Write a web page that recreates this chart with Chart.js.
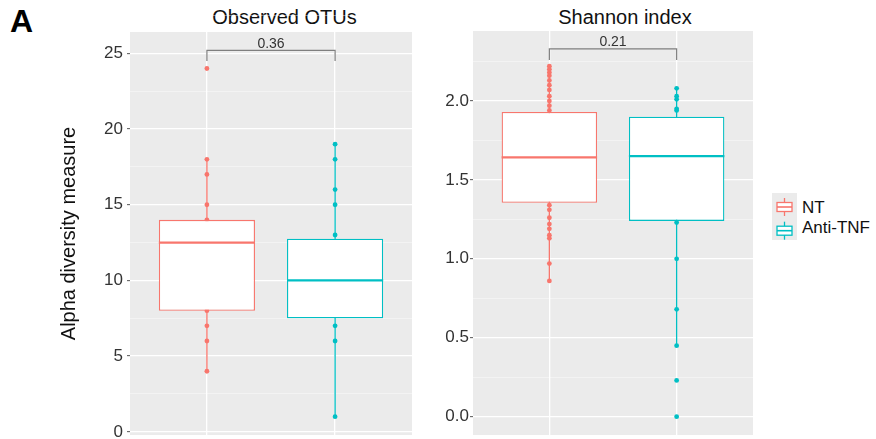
<!DOCTYPE html>
<html>
<head>
<meta charset="utf-8">
<title>Alpha diversity</title>
<script src="https://cdn.jsdelivr.net/npm/chart.js@4.4.1/dist/chart.umd.min.js"></script>
<style>
  html, body { margin: 0; padding: 0; background: #ffffff; }
  #wrap { position: relative; width: 876px; height: 439px; overflow: hidden;
          font-family: "Liberation Sans", Arial, sans-serif; color: #111; }
  canvas { position: absolute; top: 0; }
  #c1 { left: 0; }
  #c2 { left: 430px; }
  .panel-title { position: absolute; top: 7.4px; width: 240px; text-align: center;
                 font-size: 20px; line-height: 20px; color: #111; white-space: nowrap; }
  #tag { position: absolute; left: 10px; top: 5px; font-size: 32px; line-height: 32px;
         font-weight: bold; color: #000; }
  #legend-keys { position: absolute; left: 772px; top: 193px; }
  .legend-text { position: absolute; left: 802px; font-size: 17px; line-height: 17px;
                 color: #111; white-space: nowrap; }
</style>
</head>
<body>
<div id="wrap">
  <div id="tag">A</div>
  <div class="panel-title" style="left:164.5px">Observed OTUs</div>
  <div class="panel-title" style="left:505px">Shannon index</div>
  <canvas id="c1" width="430" height="439"></canvas>
  <canvas id="c2" width="340" height="439"></canvas>
  <svg id="legend-keys" width="25" height="47" viewBox="0 0 25 47"></svg>
  <div class="legend-text" id="lt0" style="top:198.9px"></div>
  <div class="legend-text" id="lt1" style="top:218.9px"></div>
</div>
<script>
// ---- groups ----
const GROUPS = ['NT', 'Anti-TNF'];
const GROUP_X = [1, 2];
const COLORS = ['#F8766D', '#00BFC4'];

// ---- Observed OTUs ----
const OTU_POINTS_NT   = [24, 18, 17, 15, 14, 8, 7, 6, 4];
const OTU_POINTS_ANTI = [19, 18, 16, 15, 13, 7, 6, 1];
const OTU_Q1          = [8, 7.5];
const OTU_MEDIAN      = [12.5, 10];
const OTU_Q3          = [14, 12.75];
const OTU_WHISKER_LOW = [4, 1];
const OTU_WHISKER_HIGH = [18, 19];
const OTU_MAJOR_TICKS = [0, 5, 10, 15, 20, 25];
const OTU_BRACKET     = [24.5, 25.2];
const OTU_P_VALUE     = '0.36';

// ---- Shannon index ----
const SH_POINTS_NT   = [2.22, 2.20, 2.18, 2.16, 2.13, 2.10, 2.07, 2.03, 2.00, 1.97, 1.94,
                        1.34, 1.31, 1.26, 1.22, 1.19, 1.15, 1.13, 0.97, 0.86];
const SH_POINTS_ANTI = [2.08, 2.03, 2.01, 1.95, 1.94, 1.23, 1.00, 0.68, 0.45, 0.23, 0.00];
const SH_Q1          = [1.355, 1.24];
const SH_MEDIAN      = [1.643, 1.65];
const SH_Q3          = [1.93, 1.90];
const SH_WHISKER_LOW = [0.86, 0.45];
const SH_WHISKER_HIGH = [2.22, 2.08];
const SH_MAJOR_TICKS = [0, 0.5, 1, 1.5, 2];
const SH_BRACKET     = [2.26, 2.33];
const SH_P_VALUE     = '0.21';

const BOX_WIDTH = 0.75;
const FONT = '"Liberation Sans", Arial, sans-serif';
Chart.defaults.font.family = FONT;

// grey panel behind the grid
const panelBg = {
  id: 'panelBg',
  beforeDraw(chart, args, opts) {
    const a = chart.chartArea, ctx = chart.ctx;
    ctx.save();
    ctx.fillStyle = opts.color || '#EBEBEB';
    ctx.fillRect(a.left, a.top, a.right - a.left, a.bottom - a.top);
    ctx.restore();
  }
};

// p-value text above the comparison bracket
const pValueLabel = {
  id: 'pValue',
  afterDatasetsDraw(chart, args, opts) {
    if (!opts.text) return;
    const ctx = chart.ctx, xs = chart.scales.x, ys = chart.scales.y;
    ctx.save();
    ctx.font = '14px ' + FONT;
    ctx.fillStyle = '#333333';
    ctx.textAlign = 'center';
    ctx.textBaseline = 'alphabetic';
    ctx.fillText(opts.text, xs.getPixelForValue(opts.x), ys.getPixelForValue(opts.y) - 2.5);
    ctx.restore();
  }
};

function minorTicks(major) {
  const step = major[1] - major[0];
  return major.map(v => v + step / 2);
}

function isMajor(v, major) {
  return major.some(m => Math.abs(m - v) < 1e-9);
}

function panelDatasets(p) {
  const ds = [];
  GROUP_X.forEach((x, i) => {
    const c = COLORS[i];
    // median
    ds.push({ type: 'line', order: 0,
      data: [{ x: x - BOX_WIDTH / 2, y: p.median[i] }, { x: x + BOX_WIDTH / 2, y: p.median[i] }],
      borderColor: c, borderWidth: 2.2, pointRadius: 0, borderCapStyle: 'butt' });
    // whisker
    ds.push({ type: 'line', order: 2,
      data: [{ x: x, y: p.low[i] }, { x: x, y: p.high[i] }],
      borderColor: c, borderWidth: 1.3, pointRadius: 0 });
    // observations
    ds.push({ type: 'scatter', order: 3,
      data: p.points[i].map(v => ({ x: x, y: v })),
      backgroundColor: c, borderWidth: 0, pointRadius: 2.4 });
  });
  // interquartile boxes
  ds.push({ type: 'bar', order: 1,
    data: GROUP_X.map((x, i) => ({ x: x, y: [p.q1[i], p.q3[i]] })),
    backgroundColor: '#ffffff', borderColor: COLORS, borderWidth: 1.3, borderSkipped: false,
    categoryPercentage: 1, barPercentage: BOX_WIDTH });
  // comparison bracket
  ds.push({ type: 'line', order: 4,
    data: [{ x: GROUP_X[0], y: p.bracket[0] }, { x: GROUP_X[0], y: p.bracket[1] },
           { x: GROUP_X[1], y: p.bracket[1] }, { x: GROUP_X[1], y: p.bracket[0] }],
    borderColor: '#7f7f7f', borderWidth: 1.2, pointRadius: 0 });
  return ds;
}

function makePanel(canvasId, p) {
  const major = p.majorTicks;
  const allTicks = major.concat(minorTicks(major)).sort((a, b) => a - b);
  return new Chart(document.getElementById(canvasId), {
    type: 'scatter',
    data: { datasets: panelDatasets(p) },
    plugins: [panelBg, pValueLabel],
    options: {
      responsive: false,
      animation: false,
      events: [],
      devicePixelRatio: 1,
      layout: { padding: p.padding },
      plugins: {
        legend: { display: false },
        tooltip: { enabled: false },
        panelBg: { color: '#EBEBEB' },
        pValue: { text: p.pValue, x: (GROUP_X[0] + GROUP_X[1]) / 2, y: p.bracket[1] }
      },
      scales: {
        x: {
          type: 'linear', min: 0.4, max: 2.6, offset: false, bounds: 'data',
          afterBuildTicks: s => { s.ticks = GROUP_X.map(v => ({ value: v })); },
          afterFit: s => { s.height = p.xHeight; s.paddingLeft = 0; s.paddingRight = 0; },
          ticks: { display: false },
          border: { display: false },
          grid: { color: '#ffffff', lineWidth: 1.3, drawTicks: false, offset: false }
        },
        y: {
          type: 'linear', min: p.yMin, max: p.yMax, bounds: 'data', stacked: false,
          afterBuildTicks: s => { s.ticks = allTicks.map(v => ({ value: v })); },
          afterFit: s => { s.width = p.yWidth; s.paddingTop = 0; s.paddingBottom = 0; },
          border: { display: false },
          grid: {
            color: c => isMajor(c.tick.value, major) ? '#ffffff' : 'rgba(255,255,255,0.6)',
            lineWidth: c => isMajor(c.tick.value, major) ? 1.3 : 0.7,
            tickColor: c => isMajor(c.tick.value, major) ? '#555555' : 'rgba(0,0,0,0)',
            tickLength: 3,
            tickWidth: 1
          },
          ticks: {
            autoSkip: false,
            padding: p.tickPad,
            color: '#333333',
            font: { size: 17 },
            callback: v => isMajor(v, major) ? p.format(v) : ''
          },
          title: p.yTitle
        }
      }
    }
  });
}

makePanel('c1', {
  points: [OTU_POINTS_NT, OTU_POINTS_ANTI],
  q1: OTU_Q1, median: OTU_MEDIAN, q3: OTU_Q3,
  low: OTU_WHISKER_LOW, high: OTU_WHISKER_HIGH,
  bracket: OTU_BRACKET, pValue: OTU_P_VALUE,
  majorTicks: OTU_MAJOR_TICKS,
  format: v => String(v),
  yMin: -0.21, yMax: 26.41,
  padding: { left: 45, right: 18, top: 32, bottom: 0 },
  yWidth: 85, xHeight: 2.8, tickPad: 4,
  yTitle: { display: true, text: 'Alpha diversity measure', color: '#111111',
            font: { size: 20 }, padding: { top: 12, bottom: 0 } }
});

makePanel('c2', {
  points: [SH_POINTS_NT, SH_POINTS_ANTI],
  q1: SH_Q1, median: SH_MEDIAN, q3: SH_Q3,
  low: SH_WHISKER_LOW, high: SH_WHISKER_HIGH,
  bracket: SH_BRACKET, pValue: SH_P_VALUE,
  majorTicks: SH_MAJOR_TICKS,
  format: v => v.toFixed(1),
  yMin: -0.116, yMax: 2.443,
  padding: { left: 0, right: 17, top: 31, bottom: 0 },
  yWidth: 43, xHeight: 3.6, tickPad: 1,
  yTitle: { display: false }
});

// legend: boxplot glyphs on grey keys
(function buildLegend() {
  const svg = document.getElementById('legend-keys');
  const NS = 'http://www.w3.org/2000/svg';
  const add = (tag, attrs) => {
    const el = document.createElementNS(NS, tag);
    Object.keys(attrs).forEach(k => el.setAttribute(k, attrs[k]));
    svg.appendChild(el);
  };
  add('rect', { x: 0, y: 0, width: 25, height: 47, fill: '#EBEBEB' });
  const rowTop = [5, 28.7];
  GROUPS.forEach((g, i) => {
    const t = rowTop[i], c = COLORS[i];
    add('line', { x1: 12.5, x2: 12.5, y1: t, y2: t + 4.5, stroke: c, 'stroke-width': 1.3 });
    add('rect', { x: 5, y: t + 4.5, width: 15, height: 9, fill: '#ffffff', stroke: c, 'stroke-width': 1.3 });
    add('line', { x1: 5, x2: 20, y1: t + 9, y2: t + 9, stroke: c, 'stroke-width': 1.6 });
    add('line', { x1: 12.5, x2: 12.5, y1: t + 13.5, y2: t + 18, stroke: c, 'stroke-width': 1.3 });
    document.getElementById('lt' + i).textContent = g;
  });
})();
</script>
</body>
</html>
